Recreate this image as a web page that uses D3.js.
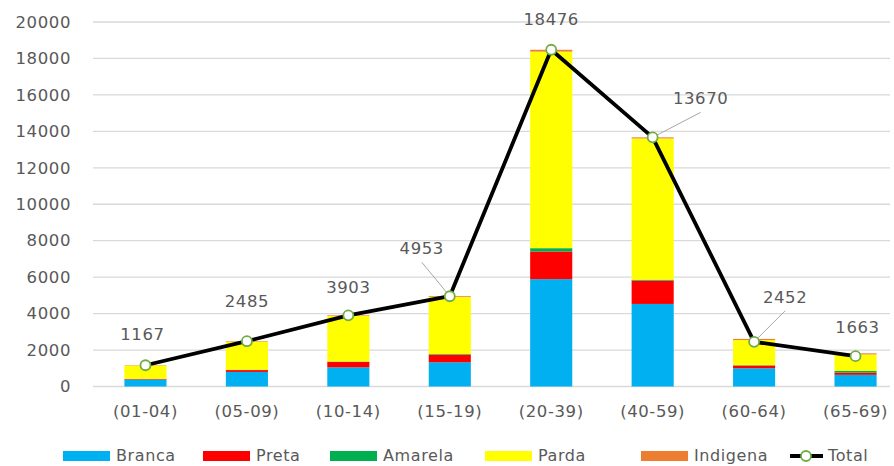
<!DOCTYPE html>
<html><head><meta charset="utf-8">
<script src="https://cdn.jsdelivr.net/npm/d3@7"></script>
<style>body{margin:0;background:#fff;} svg{display:block;} text{letter-spacing:0.6px;}</style>
</head><body>
<svg id="c" width="894" height="466"></svg>
<script>
const categories = ["(01-04)","(05-09)","(10-14)","(15-19)","(20-39)","(40-59)","(60-64)","(65-69)"];
const branca   = [380, 800, 1050, 1330, 5890, 4530, 1000, 640];
const preta    = [30, 100, 300, 420, 1520, 1280, 150, 120];
const amarela  = [10, 20, 20, 30, 180, 50, 20, 100];
const parda    = [727, 1535, 2500, 3130, 10786, 7750, 1380, 900];
const indigena = [20, 30, 33, 43, 100, 60, 60, 60];
const total    = [1167, 2485, 3903, 4953, 18476, 13670, 2452, 1663];
const yTicks   = [0,2000,4000,6000,8000,10000,12000,14000,16000,18000,20000];
const seriesNames = ["Branca","Preta","Amarela","Parda","Indigena"];
const seriesColors = ["#00b0f0","#ff0000","#00b050","#ffff00","#ed7d31"];
// label offsets (dx, dy) relative to the point, and whether a leader line is drawn
const labelOffsets = [[-3,-31,0],[0,-40,0],[0,-28,0],[-28,-48,1],[0,-31,0],[48,-39,1],[31,-45,1],[2,-29,0]];

const svg = d3.select("#c");
const font = "'DejaVu Sans', sans-serif";
const fs = 16.5;
const x = d3.scaleBand().domain(categories).range([95, 906]).paddingInner(0.585).paddingOuter(0.29);
const y = d3.scaleLinear().domain([0,20000]).range([386.5, 22]);

// gridlines
svg.append("g").selectAll("line").data(yTicks).join("line")
  .attr("x1", 93).attr("x2", 890)
  .attr("y1", d=>y(d)).attr("y2", d=>y(d))
  .attr("stroke", "#d9d9d9").attr("stroke-width", 1.3);

// y labels
svg.append("g").selectAll("text").data(yTicks).join("text")
  .attr("x", 71).attr("y", d=>y(d)).attr("dy","0.35em")
  .attr("text-anchor","end").attr("font-family",font).attr("font-size",fs)
  .attr("fill","#595959").text(d=>d);

// x labels
svg.append("g").selectAll("text").data(categories).join("text")
  .attr("x", d=>x(d)+x.bandwidth()/2).attr("y", 417)
  .attr("text-anchor","middle").attr("font-family",font).attr("font-size",fs)
  .attr("fill","#595959").text(d=>d);

// stacked bars
const rows = categories.map((c,i)=>({cat:c, Branca:branca[i], Preta:preta[i], Amarela:amarela[i], Parda:parda[i], Indigena:indigena[i]}));
const stack = d3.stack().keys(seriesNames)(rows);
svg.append("g").selectAll("g").data(stack).join("g")
  .attr("fill", (d,i)=>seriesColors[i])
  .selectAll("rect").data(d=>d).join("rect")
  .attr("x", d=>x(d.data.cat)).attr("width", x.bandwidth())
  .attr("y", d=>y(d[1])).attr("height", d=>y(d[0])-y(d[1]));

// total line
const cx = i => x(categories[i]) + x.bandwidth()/2;
const line = d3.line().x((d,i)=>cx(i)).y(d=>y(d));
svg.append("path").datum(total).attr("d", line)
  .attr("fill","none").attr("stroke","#000").attr("stroke-width",3.8).attr("stroke-linejoin","round");

// leader lines
svg.append("g").selectAll("line").data(total.map((v,i)=>({v,i})).filter(d=>labelOffsets[d.i][2]))
  .join("line")
  .attr("x1", d=>cx(d.i)).attr("y1", d=>y(d.v))
  .attr("x2", d=>cx(d.i)+labelOffsets[d.i][0]).attr("y2", d=>y(d.v)+labelOffsets[d.i][1]+14)
  .attr("stroke","#a6a6a6").attr("stroke-width",1);

svg.append("g").selectAll("circle").data(total).join("circle")
  .attr("cx",(d,i)=>cx(i)).attr("cy",d=>y(d)).attr("r",5)
  .attr("fill","#fff").attr("stroke","#70ad47").attr("stroke-width",1.8);

// data labels
svg.append("g").selectAll("text").data(total).join("text")
  .attr("x",(d,i)=>cx(i)+labelOffsets[i][0]).attr("y",(d,i)=>y(d)+labelOffsets[i][1])
  .attr("dy","0.35em").attr("text-anchor","middle")
  .attr("font-family",font).attr("font-size",fs).attr("fill","#595959").text(d=>d);

// legend
const legX = [63, 203, 330, 485, 641];
const legY = 455;
const lfs = 16;
const lg = svg.append("g");
seriesNames.forEach((n,i)=>{
  lg.append("rect").attr("x",legX[i]).attr("y",legY-4).attr("width",47).attr("height",10).attr("fill",seriesColors[i]);
  lg.append("text").attr("x",legX[i]+53).attr("y",legY).attr("dy","0.35em")
    .attr("font-family",font).attr("font-size",lfs).attr("fill","#595959").text(n);
});
lg.append("line").attr("x1",790).attr("x2",823).attr("y1",legY+1).attr("y2",legY+1).attr("stroke","#000").attr("stroke-width",3.8);
lg.append("circle").attr("cx",806).attr("cy",legY+1).attr("r",5).attr("fill","#fff").attr("stroke","#70ad47").attr("stroke-width",1.8);
lg.append("text").attr("x",828).attr("y",legY).attr("dy","0.35em")
  .attr("font-family",font).attr("font-size",lfs).attr("fill","#595959").text("Total");
</script>
</body></html>
